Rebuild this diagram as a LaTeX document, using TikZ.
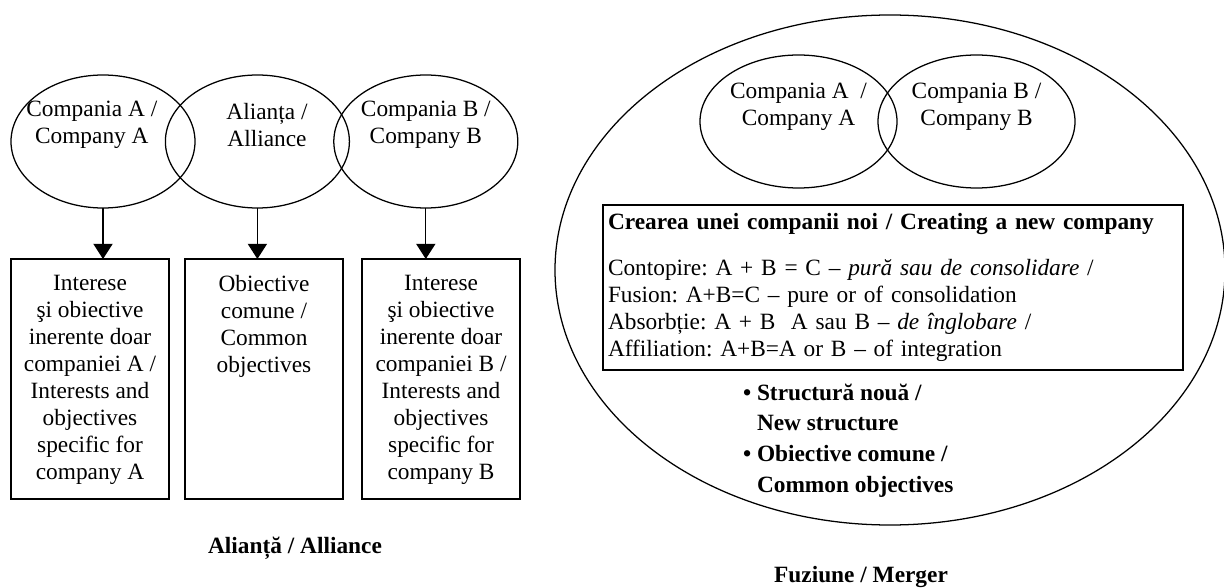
\documentclass[tikz,border=0pt]{standalone}
\usepackage{fontspec}
\setmainfont{Liberation Serif}
\frenchspacing
\usetikzlibrary{shapes,positioning,arrows.meta}

\begin{document}
\begin{tikzpicture}[node distance=0cm, outer sep=0pt, line width=0.9pt,
    font=\fontsize{16.6}{19.2}\selectfont,
    oval/.style={draw, ellipse, minimum width=4.6cm, minimum height=3.325cm, inner sep=0pt},
    box/.style={draw, rectangle, minimum width=3.95cm, minimum height=6cm},
    arr/.style={-{Triangle[width=0.48cm, length=0.38cm]}},
    captxt/.style={font=\fontsize{16.6}{19.2}\selectfont\bfseries}]
    \useasboundingbox (0,0) rectangle (30.6,-14.7);

    % Alliance
    \node [oval, label={[align=center, xshift=-0.28cm, yshift=0.42cm]center:Compania A /\\Company A}] (ca) at (2.575,-3.5375) {};
    \node [oval, right=-0.74cm of ca, label={[align=center, xshift=0.24cm, yshift=0.42cm]center:Alianța /\\Alliance}] (al) {};
    \node [oval, right=-0.39cm of al, label={[align=center, yshift=0.42cm]center:Compania B /\\Company B}] (cb) {};

    \node [box, label={[anchor=north, align=center, yshift=-0.28cm]north:Interese\\şi obiective\\inerente doar\\companiei A /\\Interests and\\objectives\\specific for\\company A}] (ia) at (2.25,-9.475) {};
    \node [box, right=0.4cm of ia, label={[anchor=north, align=center, yshift=-0.28cm]north:Obiective\\comune /\\Common\\objectives}] (oc) {};
    \node [box, right=0.475cm of oc, label={[anchor=north, align=center, yshift=-0.28cm]north:Interese\\şi obiective\\inerente doar\\companiei B /\\Interests and\\objectives\\specific for\\company B}] (ib) {};

    \draw [arr] (ca.south) -- (ca.south |- ia.north);
    \draw [arr] (al.south) -- (al.south |- oc.north);
    \draw [arr] (cb.south) -- (cb.south |- ib.north);

    \node [captxt] (capal) at (7.375,-13.7) {Alianță / Alliance};

    % Merger
    \node [draw, ellipse, minimum width=16.75cm, minimum height=12.75cm, inner sep=0pt] (mg) at (22.25,-6.75) {};
    \node [oval, minimum width=4.925cm, label={[align=center, yshift=0.375cm]center:Compania A \ /\\Company A}] (ma) at (19.9625,-3.0375) {};
    \node [oval, minimum width=4.925cm, right=-0.475cm of ma, label={[align=center, yshift=0.375cm]center:Compania B /\\Company B}] (mb) {};

    \node [draw, rectangle, text width=14.25cm, inner xsep=0.125cm, minimum height=4.125cm, align=left] (nc) at (22.325,-7.1875) {\textbf{Crearea unei companii noi / Creating a new company}\\[13.5pt]
        Contopire: A + B = C – \textit{pură sau de consolidare} /\\
        Fusion: A+B=C – pure or of consolidation\\
        Absorbție: A + B \ A sau B – \textit{de înglobare} /\\
        Affiliation: A+B=A or B – of integration};

    \node [anchor=north west, inner sep=0pt, align=left, font=\fontsize{16.6}{22}\selectfont\bfseries] (st) at (18.575,-9.59) {\textbullet\ Structură nouă /\\
        \hphantom{\textbullet\ }New structure\\
        \textbullet\ Obiective comune /\\
        \hphantom{\textbullet\ }Common objectives};

    \node [captxt] (capmg) at (21.525,-14.425) {Fuziune / Merger};
\end{tikzpicture}
\end{document}
